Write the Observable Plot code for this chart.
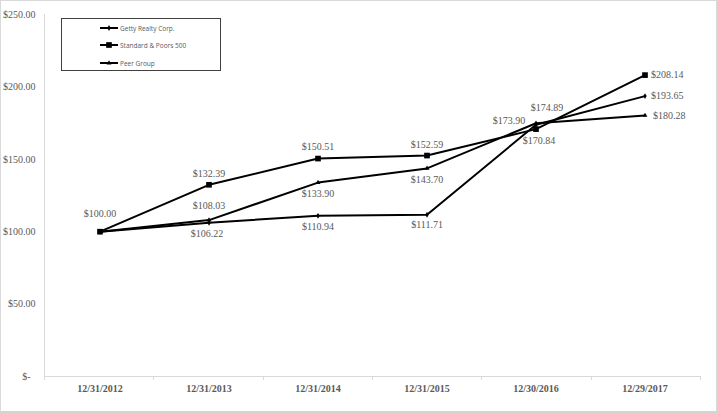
<!DOCTYPE html>
<html>
<head>
<meta charset="utf-8">
<script src="https://cdn.jsdelivr.net/npm/d3@7"></script>
<script src="https://cdn.jsdelivr.net/npm/@observablehq/plot@0.6"></script>
<style>
  html, body { margin: 0; padding: 0; background: #fff; }
  #wrap { position: relative; width: 717px; height: 413px; overflow: hidden; }
  #border { position: absolute; left: 0; top: 0; width: 717px; height: 413px; box-sizing: border-box;
            border: 1px solid #d9d9d9; border-bottom: 2px solid #d4d4cc; pointer-events: none; }
  #legend { position: absolute; left: 61px; top: 18px; width: 160px; height: 53px; box-sizing: border-box;
            border: 1px solid #404040; background: #fff; font-family: "Open Sans", sans-serif; font-size: 6.5px; color: #595959; }
  .item { position: absolute; left: 38px; height: 10px; display: flex; align-items: center; }
  .item svg { margin-right: 2px; }
</style>
</head>
<body>
<div id="wrap"><div id="chart"></div><div id="legend"></div><div id="border"></div></div>
<script>
// ---- data ----
const dates = ["12/31/2012", "12/31/2013", "12/31/2014", "12/31/2015", "12/30/2016", "12/29/2017"];
const seriesNames = ["Getty Realty Corp.", "Standard & Poors 500", "Peer Group"];
const getty = [100.00, 106.22, 110.94, 111.71, 173.90, 193.65];
const sp500 = [100.00, 132.39, 150.51, 152.59, 170.84, 208.14];
const peer  = [100.00, 108.03, 133.90, 143.70, 174.89, 180.28];
const yTicks = [0, 50, 100, 150, 200, 250];

// label placement (layout only): [dx, dy, anchor] per point, null = no label
const gettyLabelPos = [[0, -18, "middle"], [-2, 11, "middle"], [0, 11, "middle"], [0, 10, "middle"], [-27, -4, "middle"], [6, 0, "start"]];
const spLabelPos    = [null, [0, -11, "middle"], [0, -12, "middle"], [0, -11, "middle"], [3, 12, "middle"], [6, 0, "start"]];
const peerLabelPos  = [null, [0, -14, "middle"], [0, 11, "middle"], [0, 11, "middle"], [11, -15, "middle"], [8, 0, "start"]];

const symbols = ["diamond", "square", "triangle"];
const symbolR = [1.8, 3.2, 1.8];

const allValues = [getty, sp500, peer];
const allLabelPos = [gettyLabelPos, spLabelPos, peerLabelPos];
const rows = [];
allValues.forEach((vals, s) => vals.forEach((v, i) => rows.push({series: seriesNames[s], s, date: dates[i], value: v, pos: allLabelPos[s][i]})));

const fmt = d => d === 0 ? "$-\u00a0\u00a0" : "$" + d3.format(",.2f")(d);
const gray = "#595959";
const serif = "'Liberation Serif', 'Times New Roman', serif";

const textMarks = rows.filter(r => r.pos).map(r => Plot.text([r], {
  x: "date", y: "value", text: d => fmt(d.value),
  dx: r.pos[0], dy: r.pos[1], textAnchor: r.pos[2],
  fill: gray, fontSize: 10, fontFamily: serif
}));

// axis lines: light gray y-axis line and x-axis baseline with band-boundary ticks
function axisLines(index, scales, values, dim, context) {
  const doc = context.document;
  const ns = "http://www.w3.org/2000/svg";
  const g = doc.createElementNS(ns, "g");
  const x0 = dim.marginLeft, x1 = dim.width - dim.marginRight;
  const yb = dim.height - dim.marginBottom, yt = dim.marginTop;
  const add = (a, b, c, d) => {
    const l = doc.createElementNS(ns, "line");
    l.setAttribute("x1", a); l.setAttribute("y1", b); l.setAttribute("x2", c); l.setAttribute("y2", d);
    l.setAttribute("stroke", "#d9d9d9"); l.setAttribute("stroke-width", 1);
    g.appendChild(l);
  };
  add(x0 + 0.5, yt, x0 + 0.5, yb);
  add(x0, yb + 0.5, x1, yb + 0.5);
  const n = dates.length, step = (x1 - x0) / n;
  for (let i = 0; i <= n; i++) add(Math.round(x0 + i * step) + 0.5, yb, Math.round(x0 + i * step) + 0.5, yb + 4);
  return g;
}

const chart = Plot.plot({
  width: 717, height: 413,
  marginLeft: 44, marginRight: 17, marginTop: 14, marginBottom: 37,
  style: {background: "transparent", overflow: "visible"},
  x: {type: "band", domain: dates, padding: 0, axis: null},
  y: {domain: [0, 250], axis: null},
  marks: [
    axisLines,
    Plot.axisY({ticks: yTicks, tickSize: 0, tickPadding: 9, tickFormat: fmt, fill: gray, fontSize: 10, fontFamily: serif, label: null}),
    Plot.axisX({tickSize: 0, tickPadding: 8, fill: gray, fontSize: 10, fontWeight: "bold", fontFamily: serif, label: null, style: {letterSpacing: "0.8px"}}),
    Plot.line(rows, {x: "date", y: "value", z: "series", stroke: "black", strokeWidth: 2}),
    ...seriesNames.map((name, s) => Plot.dot(rows.filter(r => r.s === s), {x: "date", y: "value", symbol: symbols[s], r: symbolR[s], fill: "black", stroke: "none"})),
    ...textMarks
  ]
});
document.getElementById("chart").appendChild(chart);

// legend
const legend = document.getElementById("legend");
const itemTops = [4, 21, 39];
seriesNames.forEach((name, s) => {
  const div = document.createElement("div");
  div.className = "item";
  div.style.top = itemTops[s] + "px";
  const sym = d3.symbol(s === 0 ? d3.symbolDiamond : s === 1 ? d3.symbolSquare : d3.symbolTriangle, Math.PI * symbolR[s] * symbolR[s])();
  div.innerHTML = `<svg width="18" height="10"><line x1="0" y1="5" x2="18" y2="5" stroke="black" stroke-width="2"/><path d="${sym}" transform="translate(9,5)" fill="black"/></svg><span>${name}</span>`;
  legend.appendChild(div);
});
</script>
</body>
</html>
